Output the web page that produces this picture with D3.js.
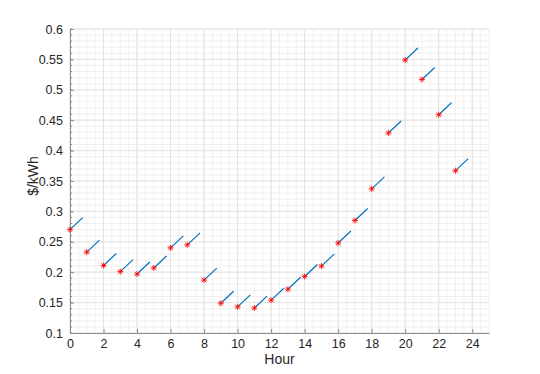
<!DOCTYPE html>
<html>
<head>
<meta charset="utf-8">
<script src="https://cdn.jsdelivr.net/npm/d3@7"></script>
<style>
  body { margin: 0; background: #fff; }
  text { font-family: "Liberation Sans", Arial, sans-serif; }
</style>
</head>
<body>
<div id="root"></div>
<script>
// hourly price data
var hours = [0, 1, 2, 3, 4, 5, 6, 7, 8, 9, 10, 11, 12, 13, 14, 15, 16, 17, 18, 19, 20, 21, 22, 23];
var prices = [0.270, 0.233, 0.211, 0.201, 0.197, 0.207, 0.240, 0.245, 0.187, 0.149, 0.143, 0.141,
  0.154, 0.172, 0.193, 0.210, 0.248, 0.285, 0.337, 0.429, 0.549, 0.517, 0.459, 0.367];
var xTicks = [0, 2, 4, 6, 8, 10, 12, 14, 16, 18, 20, 22, 24];
var yTicks = [0.1, 0.15, 0.2, 0.25, 0.3, 0.35, 0.4, 0.45, 0.5, 0.55, 0.6];
// direction of the little segments (data units)
var segDx = 0.76, segDy = 0.0197;

var w = 540, h = 374;
var margin = { top: 29, right: 51, bottom: 41, left: 70 };

var svg = d3.select("#root").append("svg").attr("width", w).attr("height", h);

var xScale = d3.scaleLinear().domain([0, 25]).range([margin.left, w - margin.right]);
var yScale = d3.scaleLinear().domain([0.1, 0.6]).range([h - margin.bottom, margin.top]);

// minor grid
var xMinor = d3.range(0, 25.01, 0.5);
var yMinor = d3.range(0, 51).map(function(i) { return 0.1 + i * 0.01; });
var grid = svg.append("g");
grid.selectAll(".mx").data(xMinor).enter().append("line")
  .attr("x1", function(d) { return xScale(d); }).attr("x2", function(d) { return xScale(d); })
  .attr("y1", yScale(0.1)).attr("y2", yScale(0.6))
  .attr("stroke", "#f0f0f0").attr("stroke-width", 1);
grid.selectAll(".my").data(yMinor).enter().append("line")
  .attr("y1", function(d) { return yScale(d); }).attr("y2", function(d) { return yScale(d); })
  .attr("x1", xScale(0)).attr("x2", xScale(25))
  .attr("stroke", "#f0f0f0").attr("stroke-width", 1);
// major grid
grid.selectAll(".gx").data(xTicks).enter().append("line")
  .attr("x1", function(d) { return xScale(d); }).attr("x2", function(d) { return xScale(d); })
  .attr("y1", yScale(0.1)).attr("y2", yScale(0.6))
  .attr("stroke", "#e3e3e3").attr("stroke-width", 1);
grid.selectAll(".gy").data(yTicks).enter().append("line")
  .attr("y1", function(d) { return yScale(d); }).attr("y2", function(d) { return yScale(d); })
  .attr("x1", xScale(0)).attr("x2", xScale(25))
  .attr("stroke", "#e3e3e3").attr("stroke-width", 1);

// axes (ticks inward, MATLAB style)
var xAxis = d3.axisBottom(xScale).tickValues(xTicks).tickSize(-4).tickPadding(6).tickSizeOuter(0);
var yAxis = d3.axisLeft(yScale).tickValues(yTicks).tickFormat(d3.format("")).tickSize(-4).tickPadding(7).tickSizeOuter(0);
var gx = svg.append("g").attr("transform", "translate(0," + yScale(0.1) + ")").call(xAxis);
var gy = svg.append("g").attr("transform", "translate(" + xScale(0) + ",0)").call(yAxis);
// minor ticks on y
gy.selectAll(".minor").data(yMinor).enter().append("line")
  .attr("x1", 0).attr("x2", 2)
  .attr("y1", function(d) { return yScale(d); }).attr("y2", function(d) { return yScale(d); })
  .attr("stroke", "#8c8c8c");
[gx, gy].forEach(function(g) {
  g.select(".domain").attr("stroke", "#8c8c8c");
  g.selectAll(".tick line").attr("stroke", "#8c8c8c");
  g.selectAll("text").attr("fill", "#262626").style("font-size", "12.5px");
});

// segments
svg.selectAll(".seg").data(hours).enter().append("line")
  .attr("x1", function(d, i) { return xScale(d); })
  .attr("y1", function(d, i) { return yScale(prices[i]); })
  .attr("x2", function(d, i) { return xScale(d + segDx); })
  .attr("y2", function(d, i) { return yScale(prices[i] + segDy); })
  .attr("stroke", "#0072bd").attr("stroke-width", 1.2);

// asterisk markers
var star = "M-3,0L3,0M0,-3L0,3M-2.2,-2.2L2.2,2.2M-2.2,2.2L2.2,-2.2";
svg.selectAll(".mk").data(hours).enter().append("path")
  .attr("transform", function(d, i) { return "translate(" + xScale(d) + "," + yScale(prices[i]) + ")"; })
  .attr("d", star)
  .attr("fill", "none").attr("stroke", "#ff0000").attr("stroke-width", 1).attr("opacity", 0.85);

// labels
svg.append("text").attr("x", (xScale(0) + xScale(25)) / 2).attr("y", 364)
  .attr("text-anchor", "middle").style("font-size", "14px").attr("fill", "#262626").text("Hour");
svg.append("text").attr("transform", "rotate(-90)").attr("x", -176).attr("y", 38)
  .attr("text-anchor", "middle").style("font-size", "14px").attr("fill", "#262626").text("$/kWh");
</script>
</body>
</html>
